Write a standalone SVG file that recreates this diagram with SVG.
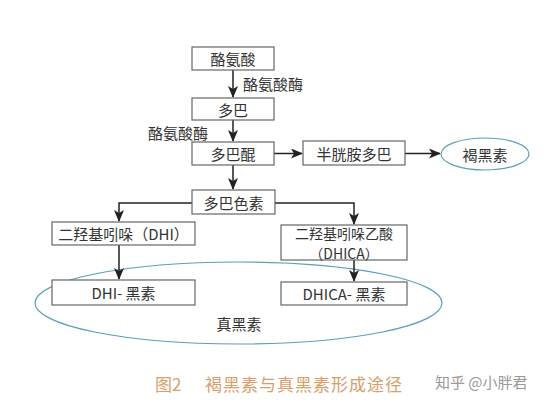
<svg xmlns="http://www.w3.org/2000/svg" width="554" height="403" viewBox="0 0 554 403">
<style>
.box{fill:#fff;stroke:#666;stroke-width:1.2}
.t{font-family:"Noto Sans CJK SC","Liberation Sans",sans-serif;font-size:15px;fill:#333;text-anchor:middle;dominant-baseline:central}
.s{font-size:14px}
.l{font-family:"Noto Sans CJK SC","Liberation Sans",sans-serif;font-size:15px;fill:#333;dominant-baseline:central}
.c{fill:none;stroke:#222;stroke-width:1.5}
.ell{fill:none;stroke:#5b9fb8;stroke-width:1.2}
</style>
<defs>
<marker id="ah" markerUnits="userSpaceOnUse" markerWidth="12" markerHeight="10" refX="11" refY="5" orient="auto">
<path d="M0,0 L12,5 L0,10 L3,5 Z" fill="#222"/>
</marker>
</defs>
<rect width="554" height="403" fill="#fff"/>
<g id="eumelanin">
<ellipse class="ell" cx="238.5" cy="303" rx="203.5" ry="41"/>
<text class="t" x="239" y="323">真黑素</text>
</g>
<g id="connectors">
<line class="c" x1="233" y1="70" x2="233" y2="97" marker-end="url(#ah)"/>
<line class="c" x1="233" y1="120" x2="233" y2="141" marker-end="url(#ah)"/>
<line class="c" x1="274" y1="153.5" x2="302" y2="153.5" marker-end="url(#ah)"/>
<line class="c" x1="405" y1="153.5" x2="440" y2="153.5" marker-end="url(#ah)"/>
<line class="c" x1="233" y1="165" x2="233" y2="189" marker-end="url(#ah)"/>
<polyline class="c" points="192,203 119,203 119,221" marker-end="url(#ah)"/>
<polyline class="c" points="275,203 354,203 354,224" marker-end="url(#ah)"/>
<line class="c" x1="119" y1="245" x2="119" y2="279" marker-end="url(#ah)"/>
<line class="c" x1="354" y1="260" x2="354" y2="281" marker-end="url(#ah)"/>
<text class="l" x="243" y="83">酪氨酸酶</text>
<text class="l" x="148" y="132">酪氨酸酶</text>
</g>
<g id="tyrosine"><rect class="box" x="192" y="47" width="82" height="23"/><text class="t" x="233" y="58.5">酪氨酸</text></g>
<g id="dopa"><rect class="box" x="192" y="98" width="82" height="22"/><text class="t" x="233" y="109">多巴</text></g>
<g id="dopaquinone"><rect class="box" x="192" y="142" width="82" height="23"/><text class="t" x="233" y="153.5">多巴醌</text></g>
<g id="cysteinyldopa"><rect class="box" x="303" y="141" width="102" height="24"/><text class="t" x="354" y="153">半胱胺多巴</text></g>
<g id="pheomelanin"><ellipse class="ell" cx="485" cy="154" rx="44" ry="16"/><text class="t" x="485" y="154">褐黑素</text></g>
<g id="dopachrome"><rect class="box" x="192" y="190" width="83" height="24"/><text class="t" x="233.5" y="202">多巴色素</text></g>
<g id="dhi"><rect class="box" x="52" y="222" width="143" height="23"/><text class="t" x="123.5" y="233.5">二羟基吲哚（DHI）</text></g>
<g id="dhica"><rect class="box" x="281" y="225" width="126" height="35"/><text class="t s" x="344" y="232.5">二羟基吲哚乙酸</text><text class="t s" x="344" y="252.5">（DHICA）</text></g>
<g id="dhi-melanin"><rect class="box" x="52" y="280" width="143" height="25"/><text class="t" x="123.5" y="292.5">DHI- 黑素</text></g>
<g id="dhica-melanin"><rect class="box" x="281" y="282" width="126" height="23"/><text class="t" x="344" y="293.5">DHICA- 黑素</text></g>
<g id="caption">
<text x="155" y="383" style="font-family:'Noto Sans CJK SC','Liberation Sans',sans-serif;font-size:17px;fill:#d6a06a;dominant-baseline:central">图2<tspan x="205" letter-spacing="1">褐黑素与真黑素形成途径</tspan></text>
<text x="435" y="381" style="font-family:'Noto Sans CJK SC','Liberation Sans',sans-serif;font-size:15px;fill:#999;dominant-baseline:central">知乎 @小胖君</text>
</g>
</svg>
